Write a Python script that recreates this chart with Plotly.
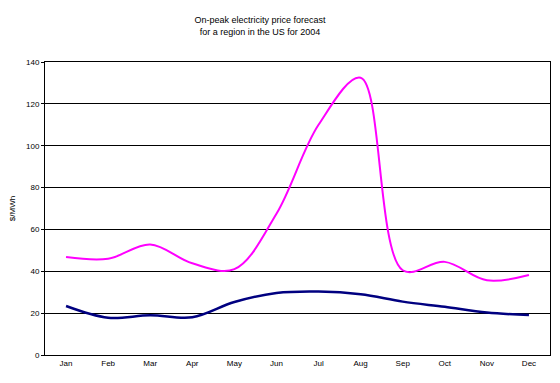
import plotly.graph_objects as go

months = ["Jan", "Feb", "Mar", "Apr", "May", "Jun", "Jul", "Aug", "Sep", "Oct", "Nov", "Dec"]
upper = [46.8, 46.0, 52.8, 43.8, 41.0, 67.5, 110.0, 132.5, 40.5, 44.5, 35.7, 38.2]
lower = [23.4, 17.8, 19.0, 18.0, 25.3, 29.6, 30.3, 29.0, 25.5, 23.0, 20.3, 19.1]
y_ticks = [0, 20, 40, 60, 80, 100, 120, 140]

fig = go.Figure()
fig.add_trace(go.Scatter(x=months, y=upper, mode="lines",
                         line=dict(color="#FF00FF", width=2, shape="spline", smoothing=1.0),
                         showlegend=False))
fig.add_trace(go.Scatter(x=months, y=lower, mode="lines",
                         line=dict(color="#000080", width=2.5, shape="spline", smoothing=1.0),
                         showlegend=False))

font_family = "Liberation Sans, Arial, sans-serif"
fig.update_layout(
    width=560, height=383,
    margin=dict(l=37, r=18, t=54, b=36, autoexpand=False),
    paper_bgcolor="white", plot_bgcolor="white",
    font=dict(family=font_family, size=8, color="black"),
    title=dict(text="On-peak electricity price forecast<br>for a region in the US for 2004",
               font=dict(size=9, family=font_family), automargin=False,
               xref="container", x=0.45, xanchor="center",
               yref="container", y=1 - 15 / 383, yanchor="top"),
    xaxis=dict(type="category", range=[-0.5, 11.5], showgrid=False, automargin=False,
               showline=True, linecolor="black", linewidth=1, mirror=True,
               ticks="", tickfont=dict(size=8)),
    yaxis=dict(range=[0, 140], tickvals=y_ticks, showgrid=True, gridcolor="black", gridwidth=1,
               showline=True, linecolor="black", linewidth=1, mirror=True, automargin=False,
               ticks="outside", ticklen=3, tickcolor="black", tickfont=dict(size=8),
               zeroline=False,
               title=dict(text="$/MWh", font=dict(size=8), standoff=11)),
)
fig.write_html("out.html")
